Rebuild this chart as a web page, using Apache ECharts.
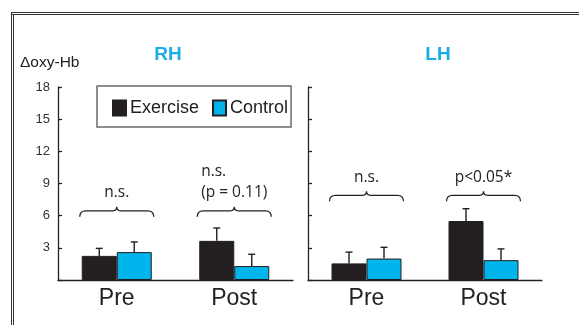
<!DOCTYPE html>
<html>
<head>
<meta charset="utf-8">
<style>
  html, body { margin: 0; padding: 0; background: #fff; }
  #chart { width: 579px; height: 325px; }
</style>
<script src="https://cdn.jsdelivr.net/npm/echarts@6/dist/echarts.min.js"></script>
</head>
<body>
<div id="chart"></div>
<script>
// Δoxy-Hb, right and left hemisphere, exercise vs control
const categories = ['Pre', 'Post'];
const yTicks = { min: 0, max: 18, interval: 3 };

const rhExercise = [2.25, 3.65];
const rhExerciseErr = [0.7, 1.2];
const rhControl = [2.6, 1.3];
const rhControlErr = [0.95, 1.1];

const lhExercise = [1.55, 5.5];
const lhExerciseErr = [1.05, 1.15];
const lhControl = [2.0, 1.85];
const lhControlErr = [1.05, 1.05];

// significance brackets: [category index, height in y units]
const rhBrackets = [[0, 6.45], [1, 6.45]];
const rhBracketText = [['n.s.'], ['n.s.', '(p = 0.11)']];
const lhBrackets = [[0, 7.9], [1, 7.9]];
const lhBracketText = [['n.s.'], ['p<0.05*']];

const BLACK = '#231f20';
const CYAN = '#00b5ec';
const TITLE_CYAN = '#19aee8';
const BAR_W = 35;
const NOTE_FONT = '15.5px "Open Sans"';

const measureCtx = document.createElement('canvas').getContext('2d');
function textWidth(str, font) {
  measureCtx.font = font;
  return measureCtx.measureText(str).width;
}

const chart = echarts.init(document.getElementById('chart'), null, { renderer: 'canvas' });

function yAxisFor(gridIndex, showLabels) {
  return {
    type: 'value', gridIndex,
    min: yTicks.min, max: yTicks.max, interval: yTicks.interval,
    axisLine: { show: true, lineStyle: { color: '#222', width: 1.3 } },
    axisTick: { show: true, inside: true, length: 4, lineStyle: { color: '#222', width: 1.3 } },
    splitLine: { show: false },
    axisLabel: {
      show: showLabels, margin: 8, color: '#333', fontSize: 13,
      fontFamily: 'Liberation Sans',
      formatter: v => (v === 0 ? '' : String(v))
    }
  };
}

function xAxisFor(gridIndex) {
  return {
    type: 'category', gridIndex, data: categories,
    axisLine: { show: true, lineStyle: { color: '#222', width: 1.3 } },
    axisTick: { show: false },
    axisLabel: { color: '#222', fontSize: 23, fontFamily: 'Liberation Sans', margin: 7 }
  };
}

function errorSeries(name, gridIndex, values, errs, offset) {
  return {
    type: 'custom', name: name + '-err', xAxisIndex: gridIndex, yAxisIndex: gridIndex,
    z: 5, silent: true, legendHoverLink: false,
    data: values.map((v, i) => [i, v, v + errs[i]]),
    renderItem(params, api) {
      const base = api.coord([api.value(0), api.value(1)]);
      const top = api.coord([api.value(0), api.value(2)]);
      const x = base[0] + offset;
      const st = { stroke: BLACK, lineWidth: 1.4 };
      return {
        type: 'group',
        children: [
          { type: 'line', shape: { x1: x, y1: base[1], x2: x, y2: top[1] }, style: st },
          { type: 'line', shape: { x1: x - 3.5, y1: top[1], x2: x + 3.5, y2: top[1] }, style: st }
        ]
      };
    }
  };
}

function bracketSeries(gridIndex, points, texts) {
  return {
    type: 'custom', xAxisIndex: gridIndex, yAxisIndex: gridIndex,
    z: 5, silent: true,
    data: points.map((p, i) => [p[0], p[1], i]),
    renderItem(params, api) {
      const c = api.coord([api.value(0), api.value(1)]);
      const cx = c[0], y = c[1];
      const w = 37;
      const d = [
        'M', cx - w, y + 6,
        'Q', cx - w, y, cx - w + 6, y,
        'L', cx - 4, y,
        'Q', cx, y, cx, y - 4,
        'Q', cx, y, cx + 4, y,
        'L', cx + w - 6, y,
        'Q', cx + w, y, cx + w, y + 6
      ].join(' ');
      const lines = texts[api.value(2)];
      const children = [
        { type: 'path', shape: { pathData: d }, style: { fill: 'none', stroke: '#222', lineWidth: 1.3 } }
      ];
      if (lines.length === 1) {
        children.push({
          type: 'text', x: cx, y: y - 18,
          style: { text: lines[0], align: 'center', verticalAlign: 'middle', font: NOTE_FONT, fill: '#222' }
        });
      } else {
        // stacked lines share a left edge, block centred over the bracket
        const maxW = Math.max.apply(null, lines.map(s => textWidth(s, NOTE_FONT)));
        const left = cx - maxW / 2;
        lines.forEach((s, k) => {
          children.push({
            type: 'text', x: left, y: y - 18 - (lines.length - 1 - k) * 21,
            style: { text: s, align: 'left', verticalAlign: 'middle', font: NOTE_FONT, fill: '#222' }
          });
        });
      }
      return { type: 'group', children };
    }
  };
}

const option = {
  animation: false,
  backgroundColor: '#fff',
  grid: [
    { left: 58, top: 87, width: 235, height: 193 },
    { left: 308, top: 87, width: 234, height: 193 }
  ],
  xAxis: [xAxisFor(0), xAxisFor(1)],
  yAxis: [yAxisFor(0, true), yAxisFor(1, false)],
  legend: {
    left: 97, top: 86,
    data: ['Exercise', 'Control'],
    icon: 'rect', itemWidth: 13, itemHeight: 15, itemGap: 13,
    padding: [13, 3, 10, 15],
    borderColor: '#6a6a6a', borderWidth: 1.5,
    textStyle: { fontSize: 18, color: '#222', fontFamily: 'Liberation Sans', padding: [0, 0, 0, -1] }
  },
  graphic: [
    // frame
    { type: 'line', shape: { x1: 11, y1: 12.5, x2: 579, y2: 12.5 }, style: { stroke: '#333', lineWidth: 1 } },
    { type: 'line', shape: { x1: 11, y1: 14.5, x2: 579, y2: 14.5 }, style: { stroke: '#333', lineWidth: 1 } },
    { type: 'line', shape: { x1: 11.5, y1: 12, x2: 11.5, y2: 325 }, style: { stroke: '#333', lineWidth: 1 } },
    { type: 'line', shape: { x1: 13.5, y1: 14, x2: 13.5, y2: 325 }, style: { stroke: '#333', lineWidth: 1 } },
    {
      type: 'text', x: 20, y: 63,
      style: { text: 'Δoxy-Hb', font: '15.5px "Liberation Sans"', fill: '#222', verticalAlign: 'middle' }
    },
    {
      type: 'text', x: 168, y: 55,
      style: { text: 'RH', font: 'bold 19px "Liberation Sans"', fill: TITLE_CYAN, align: 'center', verticalAlign: 'middle' }
    },
    {
      type: 'text', x: 438, y: 55,
      style: { text: 'LH', font: 'bold 19px "Liberation Sans"', fill: TITLE_CYAN, align: 'center', verticalAlign: 'middle' }
    }
  ],
  series: [
    {
      name: 'Exercise', type: 'bar', xAxisIndex: 0, yAxisIndex: 0,
      data: rhExercise, barWidth: BAR_W, barGap: '0%',
      itemStyle: { color: BLACK, borderColor: BLACK, borderWidth: 1 }
    },
    {
      name: 'Control', type: 'bar', xAxisIndex: 0, yAxisIndex: 0,
      data: rhControl, barWidth: BAR_W, barGap: '0%',
      itemStyle: { color: CYAN, borderColor: BLACK, borderWidth: 1 }
    },
    {
      name: 'Exercise', type: 'bar', xAxisIndex: 1, yAxisIndex: 1,
      data: lhExercise, barWidth: BAR_W, barGap: '0%',
      itemStyle: { color: BLACK, borderColor: BLACK, borderWidth: 1 }
    },
    {
      name: 'Control', type: 'bar', xAxisIndex: 1, yAxisIndex: 1,
      data: lhControl, barWidth: BAR_W, barGap: '0%',
      itemStyle: { color: CYAN, borderColor: BLACK, borderWidth: 1 }
    },
    errorSeries('rhEx', 0, rhExercise, rhExerciseErr, -BAR_W / 2),
    errorSeries('rhCo', 0, rhControl, rhControlErr, BAR_W / 2),
    errorSeries('lhEx', 1, lhExercise, lhExerciseErr, -BAR_W / 2),
    errorSeries('lhCo', 1, lhControl, lhControlErr, BAR_W / 2),
    bracketSeries(0, rhBrackets, rhBracketText),
    bracketSeries(1, lhBrackets, lhBracketText)
  ]
};

chart.setOption(option);
</script>
</body>
</html>
